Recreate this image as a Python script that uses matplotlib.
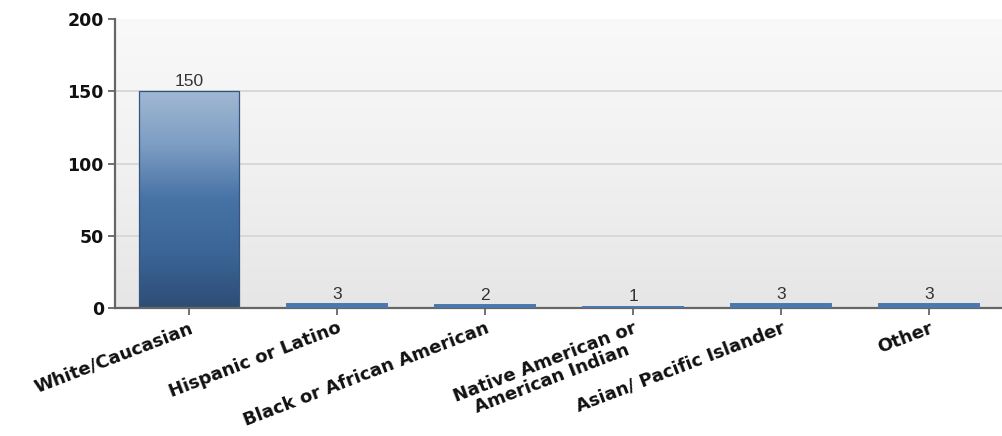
import numpy as np
import matplotlib
matplotlib.use("Agg")
import matplotlib.pyplot as plt
from matplotlib.colors import LinearSegmentedColormap

categories = ["White/Caucasian", "Hispanic or Latino", "Black or African American",
              "Native American or\nAmerican Indian", "Asian/ Pacific Islander", "Other"]
counts = [150, 3, 2, 1, 3, 3]
y_ticks = [0, 50, 100, 150, 200]

plt.rcParams["font.family"] = ["DejaVu Sans"]

fig = plt.figure(figsize=(10.03, 4.36), dpi=100)
ax = fig.add_axes([0.1147, 0.2935, 0.8853, 0.6629])

n = len(categories)
ax.set_xlim(-0.5, n - 0.5)
ax.set_ylim(0, 200)

# plot area background: soft vertical gradient
bg = LinearSegmentedColormap.from_list("bg", ["#e6e6e6", "#f1f1f1", "#f9f9f9"])
ax.imshow(np.linspace(0, 1, 256).reshape(-1, 1), cmap=bg, aspect="auto",
          extent=(-0.5, n - 0.5, 0, 200), origin="lower", zorder=0)

for v in y_ticks[1:-1]:
    ax.axhline(v, color="#d6d6d6", lw=1.3, zorder=1)

bar_cmap = LinearSegmentedColormap.from_list(
    "bar", ["#2d4d75", "#3b6596", "#4672a5", "#7d9dc3", "#a1b8d3"])
width = 0.67
bars = ax.bar(range(n), counts, width=width, color="#4a78ad",
              edgecolor="#4a78ad", linewidth=1.4, zorder=6)
for rect, val in zip(bars, counts):
    x0 = rect.get_x()
    if val > 20:
        grad = np.linspace(0, 1, 256).reshape(-1, 1)
        im = ax.imshow(grad, cmap=bar_cmap, aspect="auto", origin="lower",
                       extent=(x0, x0 + width, 0, val), zorder=2.5)
        im.set_clip_path(rect)
        rect.set_facecolor("none")
        rect.set_edgecolor("#33557f")
        rect.set_linewidth(0.9)
        rect.set_zorder(3)
    ax.text(rect.get_x() + width / 2, val + 1.5, f"{val}", ha="center",
            va="bottom", fontsize=12.5, color="#333333", zorder=7,
            family="Liberation Sans")

ax.set_xticks(range(n))
ax.set_xticklabels(categories, rotation=21, ha="right", rotation_mode="anchor",
                   fontsize=13, fontweight="bold", multialignment="center",
                   color="#111111", linespacing=1.0)
ax.set_yticks(y_ticks)
ax.set_yticklabels([str(t) for t in y_ticks], fontsize=12.5, fontweight="bold",
                   color="#111111")

for side in ("top", "right"):
    ax.spines[side].set_visible(False)
for side in ("left", "bottom"):
    ax.spines[side].set_color("#666666")
    ax.spines[side].set_linewidth(1.6)
    ax.spines[side].set_zorder(5)
ax.tick_params(axis="both", length=5, width=1.3, color="#666666", pad=3)
ax.tick_params(axis="x", pad=3)

fig.savefig("out.png", dpi=100, facecolor="white")
